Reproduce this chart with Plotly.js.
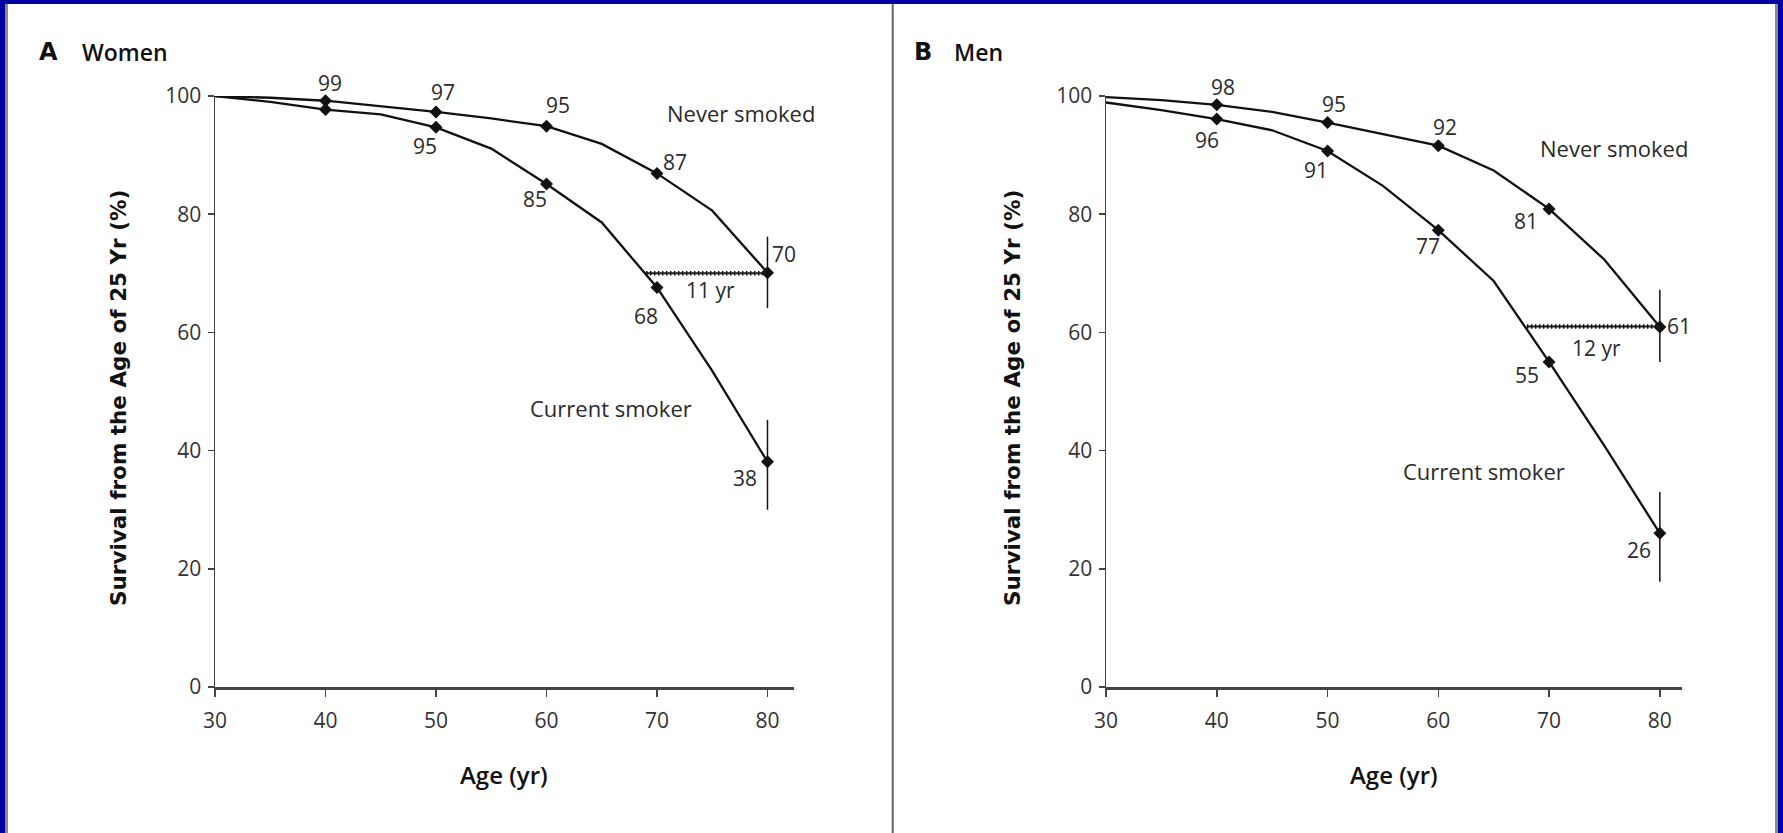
<!DOCTYPE html>
<html>
<head>
<meta charset="utf-8">
<script src="https://cdn.plot.ly/plotly-3.0.1.min.js"></script>
<style>
  html, body { margin: 0; padding: 0; background: #ffffff; }
  #chart { width: 1783px; height: 833px; }
</style>
</head>
<body>
<div id="chart"></div>
<script>
// ---------------- data ----------------
const ages = [30, 35, 40, 45, 50, 55, 60, 65, 70, 75, 80];
const womenNever  = [100, 99.7, 99.2, 98.3, 97.3, 96.2, 94.9, 91.9, 86.9, 80.6, 70.1];
const womenSmoker = [100, 99.0, 97.7, 96.9, 94.7, 91.1, 85.1, 78.6, 67.6, 53.5, 38.1];
const menNever    = [99.8, 99.3, 98.5, 97.3, 95.5, 93.6, 91.6, 87.4, 80.9, 72.3, 60.9];
const menSmoker   = [98.9, 97.6, 96.1, 94.2, 90.7, 84.8, 77.3, 68.7, 55.0, 40.8, 26.0];

const markerAges = [40, 50, 60, 70, 80];

// 95% CI at age 80 [low, high]
const womenNeverCI  = [64.1, 76.2];
const womenSmokerCI = [30.0, 45.2];
const menNeverCI    = [55.0, 67.2];
const menSmokerCI   = [17.8, 33.0];

// gap lines [start age, end age], level
const womenGapAges = [69, 80];
const womenGapLevel = 70;
const menGapAges = [68, 80];
const menGapLevel = 61;

// point labels
const womenNeverLabels  = ['99', '97', '95', '87', '70'];
const womenSmokerLabels = ['95', '85', '68', '38'];
const menNeverLabels    = ['98', '95', '92', '81', '61'];
const menSmokerLabels   = ['96', '91', '77', '55', '26'];

const womenGapText = '11 yr';
const menGapText = '12 yr';
const seriesNames = ['Never smoked', 'Current smoker'];
const panelLetters = ['A', 'B'];
const panelNames = ['Women', 'Men'];
const xTitle = 'Age (yr)';
const yTitle = 'Survival from the Age of 25 Yr (%)';
const xTicks = [30, 40, 50, 60, 70, 80];
const yTicks = [0, 20, 40, 60, 80, 100];

// ---------------- layout helpers ----------------
const W = 1783, H = 833;
const Y0PX = 687, Y100PX = 96;
const PXPERUNIT = (Y0PX - Y100PX) / 100;
const px = v => v / W;
const py = v => 1 - v / H;
const FONT = '"Open Sans", sans-serif';
const INK = '#111111';
const TXT = '#2a2a2a';

function pick(arr, xs) {
  return xs.map(a => arr[ages.indexOf(a)]);
}

const traces = [];
function addPanel(never, smoker, neverCI, smokerCI, gapAges, gapLevel, xa, ya) {
  [never, smoker].forEach((s, i) => {
    traces.push({
      x: ages, y: s, xaxis: xa, yaxis: ya, type: 'scatter', mode: 'lines',
      name: seriesNames[i], line: { color: INK, width: 2.3 },
      hoverinfo: 'x+y', showlegend: false, cliponaxis: false
    });
    traces.push({
      x: markerAges, y: pick(s, markerAges), xaxis: xa, yaxis: ya, type: 'scatter', mode: 'markers',
      marker: { symbol: 'diamond', size: 10, color: INK },
      showlegend: false, cliponaxis: false, hoverinfo: 'skip'
    });
  });
  // confidence bars at 80
  const v80n = never[ages.indexOf(80)], v80s = smoker[ages.indexOf(80)];
  traces.push({
    x: [80, 80], y: [v80n, v80s], xaxis: xa, yaxis: ya, type: 'scatter', mode: 'none',
    error_y: {
      type: 'data', symmetric: false,
      array: [neverCI[1] - v80n, smokerCI[1] - v80s],
      arrayminus: [v80n - neverCI[0], v80s - smokerCI[0]],
      color: INK, thickness: 1.5, width: 0
    },
    showlegend: false, hoverinfo: 'skip', cliponaxis: false
  });
  // gap line
  traces.push({
    x: gapAges, y: [gapLevel, gapLevel], xaxis: xa, yaxis: ya, type: 'scatter', mode: 'lines',
    line: { color: '#222', width: 2 }, showlegend: false, hoverinfo: 'skip'
  });
  traces.push({
    x: gapAges, y: [gapLevel, gapLevel], xaxis: xa, yaxis: ya, type: 'scatter', mode: 'lines',
    line: { color: '#111', width: 4.5, dash: '1.5px,2.5px' }, showlegend: false, hoverinfo: 'skip'
  });
}
addPanel(womenNever, womenSmoker, womenNeverCI, womenSmokerCI, womenGapAges, womenGapLevel, 'x', 'y');
addPanel(menNever, menSmoker, menNeverCI, menSmokerCI, menGapAges, menGapLevel, 'x2', 'y2');

// ---------------- annotations ----------------
const ann = [];
function lab(text, x, y, xr, yr, opts) {
  const a = Object.assign({
    text: text, x: x, y: y, xref: xr, yref: yr, showarrow: false,
    xanchor: 'center', yanchor: 'middle',
    font: { family: FONT, size: 21, color: TXT }
  }, opts || {});
  // labels above the top of the axis range: anchor at 100 and shift in pixels
  if (yr !== 'paper' && a.y > 100) {
    a.yshift = (a.y - 100) * PXPERUNIT;
    a.y = 100;
  }
  ann.push(a);
}
// Women labels
const wnPos = [[40.4, 102.2], [50.6, 100.7], [61.0, 98.5], [71.6, 88.8], [81.45, 73.2]];
womenNeverLabels.forEach((t, i) => lab(t, wnPos[i][0], wnPos[i][1], 'x', 'y'));
const wsPos = [[49.0, 91.6], [59.0, 82.6], [69.0, 62.7], [78.0, 35.4]];
womenSmokerLabels.forEach((t, i) => lab(t, wsPos[i][0], wsPos[i][1], 'x', 'y'));
lab(womenGapText, 74.8, 67.2, 'x', 'y');
lab(seriesNames[0], 77.6, 97.2, 'x', 'y', { font: { family: FONT, size: 22, color: TXT } });
lab(seriesNames[1], 65.8, 47.2, 'x', 'y', { font: { family: FONT, size: 22, color: TXT } });
// Men labels
const mnPos = [[40.6, 101.5], [50.6, 98.6], [60.6, 94.8], [67.9, 78.9], [81.7, 61.1]];
menNeverLabels.forEach((t, i) => lab(t, mnPos[i][0], mnPos[i][1], 'x2', 'y2'));
const msPos = [[39.1, 92.6], [49.0, 87.5], [59.1, 74.6], [68.0, 52.8], [78.1, 23.2]];
menSmokerLabels.forEach((t, i) => lab(t, msPos[i][0], msPos[i][1], 'x2', 'y2'));
lab(menGapText, 74.3, 57.4, 'x2', 'y2');
lab(seriesNames[0], 75.9, 91.2, 'x2', 'y2', { font: { family: FONT, size: 22, color: TXT } });
lab(seriesNames[1], 64.1, 36.6, 'x2', 'y2', { font: { family: FONT, size: 22, color: TXT } });

// panel titles
[[37, 80], [912, 952]].forEach((p, i) => {
  lab('<b>' + panelLetters[i] + '</b>', px(p[0]), py(52), 'paper', 'paper',
    { xanchor: 'left', font: { family: '"DejaVu Sans", sans-serif', size: 24, color: '#111' } });
  lab(panelNames[i], px(p[1]), py(52), 'paper', 'paper',
    { xanchor: 'left', font: { family: FONT, size: 23, weight: 600, color: '#111' } });
});
// axis titles
[118, 1012].forEach(cx => {
  lab('<b>' + yTitle + '</b>', px(cx), py(398), 'paper', 'paper',
    { textangle: -90, font: { family: '"DejaVu Sans", sans-serif', size: 21.5, color: '#111' } });
});
[504, 1394].forEach(cx => {
  lab(xTitle, px(cx), py(774), 'paper', 'paper',
    { font: { family: FONT, size: 24, weight: 600, color: '#111' } });
});

// ---------------- frame shapes ----------------
const BLUE = '#0202a0';
const shapes = [
  { type: 'rect', xref: 'paper', yref: 'paper', x0: 0, x1: px(5), y0: 0, y1: 1, fillcolor: BLUE, line: { width: 0 }, layer: 'below' },
  { type: 'rect', xref: 'paper', yref: 'paper', x0: px(1778), x1: 1, y0: 0, y1: 1, fillcolor: BLUE, line: { width: 0 }, layer: 'below' },
  { type: 'rect', xref: 'paper', yref: 'paper', x0: 0, x1: 1, y0: py(4), y1: 1, fillcolor: BLUE, line: { width: 0 }, layer: 'below' },
  { type: 'line', xref: 'paper', yref: 'paper', x0: px(6.5), x1: px(6.5), y0: 0, y1: py(4), line: { color: '#8a8a8a', width: 3 }, layer: 'below' },
  { type: 'line', xref: 'paper', yref: 'paper', x0: px(1776.5), x1: px(1776.5), y0: 0, y1: py(4), line: { color: '#8a8a8a', width: 3 }, layer: 'below' },
  { type: 'line', xref: 'paper', yref: 'paper', x0: px(892.7), x1: px(892.7), y0: 0, y1: py(4), line: { color: '#666666', width: 2 }, layer: 'below' }
];

// ---------------- axes ----------------
const yDom = [py(Y0PX), py(Y100PX)];
function xAxis(dom, range, anchor) {
  return {
    domain: dom, range: range, anchor: anchor,
    showline: true, linecolor: '#444', linewidth: 2.5,
    ticks: 'outside', ticklen: 7, tickwidth: 1.5, tickcolor: '#444',
    tickvals: xTicks, showgrid: false, zeroline: false, fixedrange: true,
    ticklabelstandoff: 6,
    tickfont: { family: FONT, size: 21, color: '#333' }
  };
}
function yAxis(anchor) {
  return {
    domain: yDom, range: [0, 100], anchor: anchor,
    showline: true, linecolor: '#444', linewidth: 1.5,
    ticks: 'outside', ticklen: 6, tickwidth: 1.5, tickcolor: '#444',
    tickvals: yTicks, showgrid: false, zeroline: false, fixedrange: true,
    ticklabelstandoff: 2,
    tickfont: { family: FONT, size: 21, color: '#333' }
  };
}

const layout = {
  width: W, height: H,
  margin: { l: 0, r: 0, t: 0, b: 0 },
  paper_bgcolor: '#ffffff', plot_bgcolor: 'rgba(0,0,0,0)',
  showlegend: false,
  xaxis: xAxis([px(215), px(794)], [30, 82.4], 'y'),
  yaxis: yAxis('x'),
  xaxis2: xAxis([px(1106), px(1682)], [30, 82.0], 'y2'),
  yaxis2: yAxis('x2'),
  annotations: ann,
  shapes: shapes
};

Plotly.newPlot('chart', traces, layout, { displayModeBar: false, staticPlot: true });
</script>
</body>
</html>
